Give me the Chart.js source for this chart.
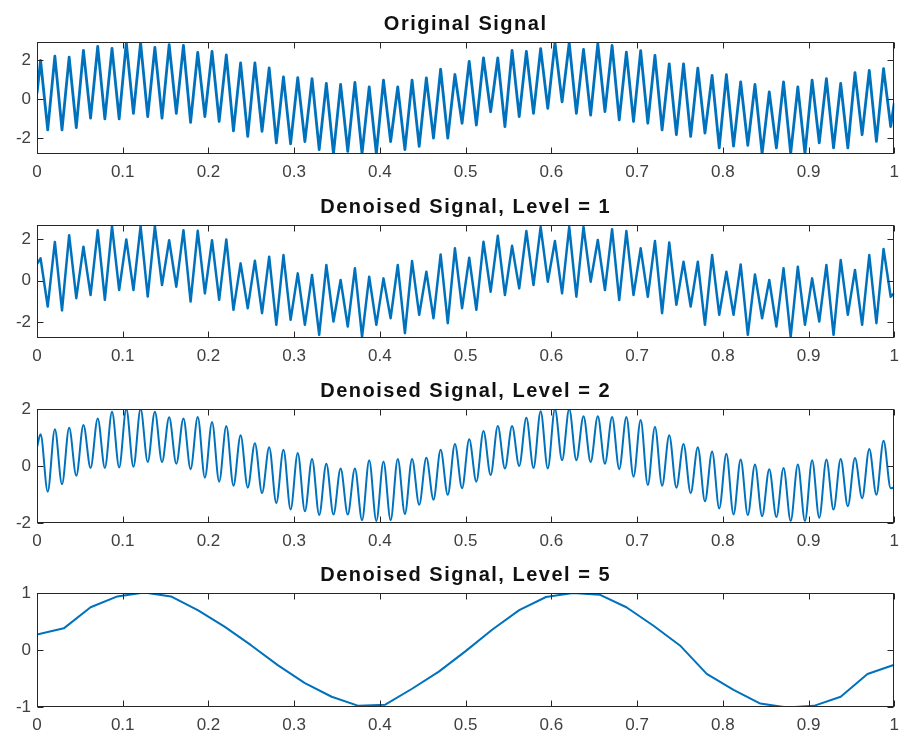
<!DOCTYPE html>
<html>
<head>
<meta charset="utf-8">
<script src="https://cdn.jsdelivr.net/npm/chart.js@4.4.1/dist/chart.umd.min.js"></script>
<style>
  body { margin: 0; background: #fff; }
  canvas { position: absolute; left: 0; }
</style>
</head>
<body>
<div id="wrap"></div>
<script>
// time axis
const xTicks = [0, 0.1, 0.2, 0.3, 0.4, 0.5, 0.6, 0.7, 0.8, 0.9, 1];
const firstSample = 1 / 240;
const sampleStep = 1 / 120;

const titles = ['Original Signal', 'Denoised Signal, Level = 1', 'Denoised Signal, Level = 2', 'Denoised Signal, Level = 5'];

// Original signal
const originalStart = 0.3;
const originalEnd = -0.2;
const originalPeaks = [
  1.98, 2.2, 2.15, 2.5, 2.7, 2.6, 2.9, 2.9, 2.65, 2.8, 2.75, 2.4, 2.45, 2.27, 1.86, 1.86, 1.6, 1.14, 1.1,
  1.05, 0.8, 0.75, 0.85, 0.63, 0.97, 0.63, 0.97, 1.09, 1.53, 1.26, 1.94, 2.11, 2.11, 2.5, 2.45, 2.59, 2.89, 2.89, 2.55, 2.84,
  2.75, 2.41, 2.49, 2.24, 1.81, 1.81, 1.59, 1.22, 1.25, 0.88, 0.75, 0.37, 0.88, 0.63, 0.97, 1.05, 0.8, 1.36, 1.47, 1.56
];
const originalTroughs = [
  -1.58, -1.58, -1.46, -0.98, -1.02, -1.02, -0.73, -0.9, -0.98, -0.73, -1.19, -0.9, -1.15, -1.63, -1.92, -1.66, -2.25, -2.3,
  -2.18, -2.6, -2.8, -2.69, -2.8, -2.8, -2.18, -2.6, -2.43, -2.0, -2.0, -1.24, -1.33, -0.65, -1.41, -0.9, -0.73, -0.48, -0.14, -0.73, -0.82,
  -0.64, -1.07, -1.15, -1.24, -1.58, -1.83, -1.92, -1.75, -2.51, -2.42, -2.37, -2.8, -2.51, -2.8, -2.8, -2.25, -2.51, -2.51, -1.83, -2.17, -1.41
];

// Level 1
const level1Start = 0.8;
const level1End = -0.6;
const level1Peaks = [
  1.07, 1.86, 2.18, 1.63, 2.42, 2.61, 1.98, 2.61, 2.61, 1.94, 2.42, 2.39, 1.94, 1.98, 0.83, 0.96, 1.15, 1.23, 0.35,
  0.27, 0.75, 0.03, 0.59, 0.19, 0.11, 0.75, 0.94, 0.43, 1.26, 1.55, 1.10, 1.87, 2.15, 1.67, 2.38, 2.58, 1.90, 2.58, 2.58, 1.95,
  2.47, 2.38, 1.55, 1.90, 1.83, 0.91, 0.91, 1.23, 0.43, 0.78, 0.30, 0.03, 0.59, 0.67, 0.11, 0.75, 0.99, 0.51, 1.23, 1.52
];
const level1Troughs = [
  -1.24, -1.43, -0.84, -0.69, -0.92, -0.45, -0.45, -0.76, -0.21, -0.29, -1.0, -0.61, -0.92, -1.40, -1.32, -1.56, -2.12, -1.88,
  -2.12, -2.6, -1.96, -2.2, -2.7, -2.12, -1.8, -2.52, -1.64, -1.8, -2.04, -1.32, -1.40, -0.53, -0.69, -0.37, -0.21, -0.05, -0.61, -0.77, -0.05,
  -0.45, -0.93, -0.69, -0.77, -1.56, -1.16, -1.24, -2.12, -1.64, -1.64, -2.6, -1.8, -2.2, -2.7, -2.12, -1.96, -2.6, -1.64, -2.12, -2.04, -0.77
];

// Level 2
const level2Start = 0.66;
const level2End = -0.75;
const level2Peaks = [
  1.11, 1.29, 1.34, 1.44, 1.67, 1.90, 2.0, 2.0, 1.9, 1.71, 1.67, 1.72, 1.54, 1.40, 1.08, 0.80, 0.66, 0.57, 0.46,
  0.25, 0.08, -0.09, -0.09, 0.20, 0.16, 0.25, 0.25, 0.29, 0.57, 0.77, 0.94, 1.23, 1.40, 1.40, 1.69, 1.92, 2.0, 2.0, 1.75,
  1.75, 1.72, 1.72, 1.61, 1.38, 1.08, 0.77, 0.66, 0.51, 0.43, 0.23, 0.05, -0.11, -0.07, 0.05, 0.20, 0.23, 0.25, 0.28, 0.60, 0.89
];
const level2Troughs = [
  -0.90, -0.64, -0.34, -0.07, -0.07, -0.05, -0.03, 0.14, 0.14, 0.08, -0.11, -0.41, -0.55, -0.69, -0.76, -0.95, -1.30, -1.53,
  -1.59, -1.72, -1.70, -1.70, -1.90, -1.93, -1.90, -1.68, -1.36, -1.18, -1.01, -0.78, -0.55, -0.32, -0.09, 0.0, -0.07, -0.09, 0.20, 0.20, 0.14,
  0.08, -0.11, -0.38, -0.67, -0.69, -0.76, -0.95, -1.24, -1.49, -1.70, -1.72, -1.76, -1.79, -1.93, -1.93, -1.82, -1.53, -1.41, -1.13, -1.01, -0.78
];

// Level 5 (coarse approximation, 33 samples)
const level5Step = 1 / 32;
const level5Values = [
  0.27, 0.38, 0.75, 0.94, 1.01, 0.94, 0.70, 0.41, 0.08, -0.27, -0.58, -0.82, -0.98, -0.96, -0.68, -0.38,
  -0.02, 0.36, 0.70, 0.93, 1.0, 0.97, 0.75, 0.43, 0.08, -0.42, -0.70, -0.94, -1.01, -0.98, -0.82, -0.42, -0.26
];

const yLimits = [[-2.82, 2.93], [-2.75, 2.67], [-2, 2], [-1, 1]];
const yTicks = [[-2, 0, 2], [-2, 0, 2], [-2, 0, 2], [-1, 0, 1]];

// layout of the four axes (px)
const panelTop = [42, 225, 409, 593];
const panelHeight = [112, 113, 114, 114];
const titleSpace = 42;
const xAxisSpace = 29;

function ripple(start, peaks, troughs, end) {
  const pts = [{ x: 0, y: start }];
  peaks.forEach((p, i) => {
    pts.push({ x: firstSample + 2 * i * sampleStep, y: p });
    pts.push({ x: firstSample + (2 * i + 1) * sampleStep, y: troughs[i] });
  });
  pts.push({ x: 1, y: end });
  return pts;
}

const seriesData = [
  ripple(originalStart, originalPeaks, originalTroughs, originalEnd),
  ripple(level1Start, level1Peaks, level1Troughs, level1End),
  ripple(level2Start, level2Peaks, level2Troughs, level2End),
  level5Values.map((v, i) => ({ x: i * level5Step, y: v }))
];
const lineWidths = [2.8, 2.5, 2, 2];

Chart.defaults.font.family = '"Liberation Sans", Arial, sans-serif';
Chart.defaults.font.size = 17;
Chart.defaults.color = '#404040';

const boxPlugin = {
  id: 'matlabBox',
  afterDraw(chart, args, opts) {
    const { ctx, chartArea: a, scales } = chart;
    const L = Math.round(a.left) + 0.5, R = Math.round(a.right) - 0.5;
    const T = Math.round(a.top) + 0.5, B = Math.round(a.bottom) - 0.5;
    ctx.save();
    ctx.strokeStyle = '#262626';
    ctx.lineWidth = 1;
    ctx.strokeRect(L, T, R - L, B - T);
    ctx.beginPath();
    scales.x.ticks.forEach(t => {
      const px = Math.round(scales.x.getPixelForValue(t.value)) + 0.5;
      ctx.moveTo(px, B); ctx.lineTo(px, B - 6);
      ctx.moveTo(px, T); ctx.lineTo(px, T + 6);
    });
    scales.y.ticks.forEach(t => {
      const py = Math.round(scales.y.getPixelForValue(t.value)) + 0.5;
      ctx.moveTo(L, py); ctx.lineTo(L + 6, py);
      ctx.moveTo(R, py); ctx.lineTo(R - 6, py);
    });
    ctx.stroke();
    ctx.font = 'bold 20px "Liberation Sans", Arial, sans-serif';
    ctx.letterSpacing = '1.5px';
    ctx.fillStyle = '#111';
    ctx.textAlign = 'center';
    ctx.textBaseline = 'alphabetic';
    ctx.fillText(opts.text, (a.left + a.right) / 2, a.top - 12);
    ctx.restore();
  }
};

const wrap = document.getElementById('wrap');
seriesData.forEach((data, i) => {
  const canvas = document.createElement('canvas');
  canvas.width = 907;
  canvas.height = titleSpace + panelHeight[i] + xAxisSpace;
  canvas.style.top = (panelTop[i] - titleSpace) + 'px';
  wrap.appendChild(canvas);

  new Chart(canvas, {
    type: 'line',
    data: {
      datasets: [{
        data: data,
        borderColor: '#0072BD',
        borderWidth: lineWidths[i],
        borderJoinStyle: 'round',
        pointRadius: 0,
        fill: false,
        tension: 0,
        cubicInterpolationMode: i === 2 ? 'monotone' : 'default'
      }]
    },
    options: {
      responsive: false,
      animation: false,
      events: [],
      layout: { padding: { top: titleSpace, right: 5, left: 0, bottom: 0 } },
      scales: {
        x: {
          type: 'linear',
          min: 0,
          max: 1,
          afterBuildTicks: s => { s.ticks = xTicks.map(v => ({ value: v })); },
          afterFit: s => { s.height = xAxisSpace; },
          ticks: { maxRotation: 0, autoSkip: false, padding: 8, callback: v => String(v) },
          grid: { display: false, drawTicks: false },
          border: { display: false }
        },
        y: {
          min: yLimits[i][0],
          max: yLimits[i][1],
          afterBuildTicks: s => { s.ticks = yTicks[i].map(v => ({ value: v })); },
          afterFit: s => { s.width = 37; },
          ticks: { padding: 6, callback: v => String(v) },
          grid: { display: false, drawTicks: false },
          border: { display: false }
        }
      },
      plugins: {
        legend: { display: false },
        tooltip: { enabled: false },
        matlabBox: { text: titles[i] }
      }
    },
    plugins: [boxPlugin]
  });
});
</script>
</body>
</html>
